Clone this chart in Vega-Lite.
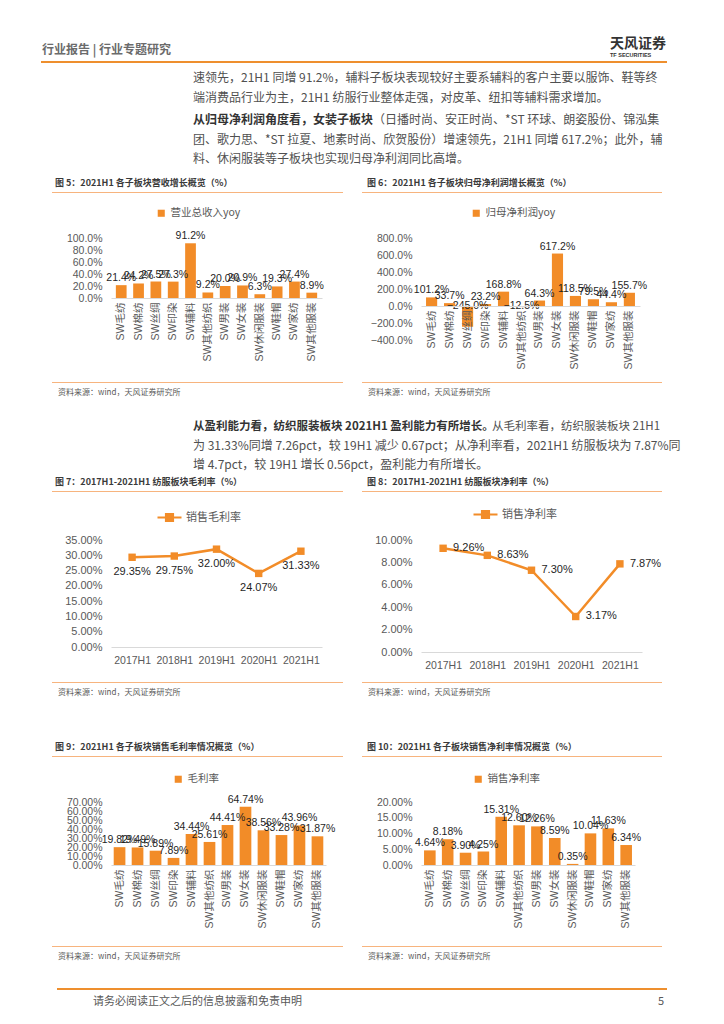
{
"$schema":"https://vega.github.io/schema/vega-lite/v6.json",
"padding":{"left":41,"top":20,"right":0,"bottom":0},
"autosize":{"type":"pad"},
"background":"#ffffff",
"config":{
"view":{"stroke":null},
"font":"Noto Sans CJK SC",
"title":{"font":"Noto Sans CJK SC"},
"axis":{"labelFont":"Liberation Sans, Noto Sans CJK SC","labelFontSize":10.5,"labelColor":"#595959","ticks":false,"tickSize":0,"grid":false,"domainColor":"#D9D9D9","labelOverlap":false,"labelFlush":false,"labelBound":false},
"axisY":{"domain":false,"labelPadding":9},
"legend":{"padding":0,"labelFont":"Noto Sans CJK SC","labelFontSize":10.5,"labelColor":"#595959","symbolType":"square","symbolSize":50,"labelOffset":4}
},
"resolve":{"scale":{"color":"independent"},"legend":{"color":"independent"}},
"columns":10,
"spacing":0,
"bounds":"flush",
"align":"none",
"concat":[
{"width":11,"height":41,"data":{"values":[]},"mark":"point","title":{"text":"行业报告 | 行业专题研究","orient":"bottom","anchor":"start","frame":"group","offset":-16,"dx":1,"fontSize":12,"fontWeight":"bold","color":"#6b6b6b"}},
{"width":5,"height":41,"data":{"values":[]},"mark":"point"},
{"width":54,"height":41,"data":{"values":[]},"mark":"point"},
{"width":215,"height":41,"data":{"values":[]},"mark":"point"},
{"width":17,"height":41,"data":{"values":[]},"mark":"point"},
{"width":19,"height":41,"data":{"values":[]},"mark":"point"},
{"width":59,"height":41,"data":{"values":[]},"mark":"point"},
{"width":221,"height":41,"data":{"values":[]},"mark":"point","title":{"text":"天风证券","subtitle":"TF SECURITIES","orient":"bottom","anchor":"start","frame":"group","offset":-24,"dx":189,"fontSize":14,"fontWeight":"bold","color":"#333333","subtitleFont":"Liberation Sans","subtitleFontSize":5.5,"subtitleFontWeight":"bold","subtitleColor":"#333333","subtitlePadding":2}},
{"width":20,"height":41,"data":{"values":[]},"mark":"point"},
{"width":5,"height":41,"data":{"values":[]},"mark":"point"},

{"width":11,"height":2,"data":{"values":[]},"mark":"point","view":{"fill":"#EE8F2E","stroke":null}},
{"width":5,"height":2,"data":{"values":[]},"mark":"point","view":{"fill":"#EE8F2E","stroke":null}},
{"width":54,"height":2,"data":{"values":[]},"mark":"point","view":{"fill":"#EE8F2E","stroke":null}},
{"width":215,"height":2,"data":{"values":[]},"mark":"point","view":{"fill":"#EE8F2E","stroke":null}},
{"width":17,"height":2,"data":{"values":[]},"mark":"point","view":{"fill":"#EE8F2E","stroke":null}},
{"width":19,"height":2,"data":{"values":[]},"mark":"point","view":{"fill":"#EE8F2E","stroke":null}},
{"width":59,"height":2,"data":{"values":[]},"mark":"point","view":{"fill":"#EE8F2E","stroke":null}},
{"width":221,"height":2,"data":{"values":[]},"mark":"point","view":{"fill":"#EE8F2E","stroke":null}},
{"width":20,"height":2,"data":{"values":[]},"mark":"point","view":{"fill":"#EE8F2E","stroke":null}},
{"width":5,"height":2,"data":{"values":[]},"mark":"point","view":{"fill":"#EE8F2E","stroke":null}},

{"width":11,"height":52,"data":{"values":[]},"mark":"point","title":{"text":["速领先，21H1 同增 91.2%，辅料子板块表现较好主要系辅料的客户主要以服饰、鞋等终","端消费品行业为主，21H1 纺服行业整体走强，对皮革、纽扣等辅料需求增加。"],"orient":"bottom","anchor":"start","frame":"group","offset":-41.9,"dx":152,"fontSize":12,"fontWeight":"normal","color":"#505050","lineHeight":19.5}},
{"width":5,"height":52,"data":{"values":[]},"mark":"point"},
{"width":54,"height":52,"data":{"values":[]},"mark":"point"},
{"width":215,"height":52,"data":{"values":[]},"mark":"point"},
{"width":17,"height":52,"data":{"values":[]},"mark":"point"},
{"width":19,"height":52,"data":{"values":[]},"mark":"point"},
{"width":59,"height":52,"data":{"values":[]},"mark":"point"},
{"width":221,"height":52,"data":{"values":[]},"mark":"point"},
{"width":20,"height":52,"data":{"values":[]},"mark":"point"},
{"width":5,"height":52,"data":{"values":[]},"mark":"point"},

{"width":11,"height":20,"data":{"values":[]},"mark":"point","title":{"text":"从归母净利润角度看，女装子板块","orient":"bottom","anchor":"start","frame":"group","offset":-20,"dx":152,"fontSize":12,"fontWeight":"bold","color":"#333333"}},
{"width":5,"height":20,"data":{"values":[]},"mark":"point","title":{"text":"（日播时尚、安正时尚、*ST 环球、朗姿股份、锦泓集","orient":"bottom","anchor":"start","frame":"group","offset":-20,"dx":321,"fontSize":12,"fontWeight":"normal","color":"#505050"}},
{"width":54,"height":20,"data":{"values":[]},"mark":"point"},
{"width":215,"height":20,"data":{"values":[]},"mark":"point"},
{"width":17,"height":20,"data":{"values":[]},"mark":"point"},
{"width":19,"height":20,"data":{"values":[]},"mark":"point"},
{"width":59,"height":20,"data":{"values":[]},"mark":"point"},
{"width":221,"height":20,"data":{"values":[]},"mark":"point"},
{"width":20,"height":20,"data":{"values":[]},"mark":"point"},
{"width":5,"height":20,"data":{"values":[]},"mark":"point"},

{"width":11,"height":57,"data":{"values":[]},"mark":"point","title":{"text":["团、歌力思、*ST 拉夏、地素时尚、欣贺股份）增速领先，21H1 同增 617.2%；此外，辅","料、休闲服装等子板块也实现归母净利润同比高增。"],"orient":"bottom","anchor":"start","frame":"group","offset":-57.5,"dx":152,"fontSize":12,"fontWeight":"normal","color":"#505050","lineHeight":19.5}},
{"width":5,"height":57,"data":{"values":[]},"mark":"point"},
{"width":54,"height":57,"data":{"values":[]},"mark":"point"},
{"width":215,"height":57,"data":{"values":[]},"mark":"point"},
{"width":17,"height":57,"data":{"values":[]},"mark":"point"},
{"width":19,"height":57,"data":{"values":[]},"mark":"point"},
{"width":59,"height":57,"data":{"values":[]},"mark":"point"},
{"width":221,"height":57,"data":{"values":[]},"mark":"point"},
{"width":20,"height":57,"data":{"values":[]},"mark":"point"},
{"width":5,"height":57,"data":{"values":[]},"mark":"point"},

{"width":11,"height":1,"data":{"values":[]},"mark":"point"},
{"width":5,"height":1,"data":{"values":[]},"mark":"point","view":{"fill":"#F7B47E","stroke":null},"title":{"text":"图 5：2021H1 各子板块营收增长概览（%）","orient":"top","anchor":"start","frame":"group","offset":4,"dx":3,"fontSize":9,"fontWeight":"bold","color":"#3a3a3a"}},
{"width":54,"height":1,"data":{"values":[]},"mark":"point","view":{"fill":"#F7B47E","stroke":null}},
{"width":215,"height":1,"data":{"values":[]},"mark":"point","view":{"fill":"#F7B47E","stroke":null}},
{"width":17,"height":1,"data":{"values":[]},"mark":"point","view":{"fill":"#F7B47E","stroke":null}},
{"width":19,"height":1,"data":{"values":[]},"mark":"point"},
{"width":59,"height":1,"data":{"values":[]},"mark":"point","view":{"fill":"#F7B47E","stroke":null},"title":{"text":"图 6：2021H1 各子板块归母净利润增长概览（%）","orient":"top","anchor":"start","frame":"group","offset":4,"dx":5,"fontSize":9,"fontWeight":"bold","color":"#3a3a3a"}},
{"width":221,"height":1,"data":{"values":[]},"mark":"point","view":{"fill":"#F7B47E","stroke":null}},
{"width":20,"height":1,"data":{"values":[]},"mark":"point","view":{"fill":"#F7B47E","stroke":null}},
{"width":5,"height":1,"data":{"values":[]},"mark":"point"},

{"width":11,"height":45,"data":{"values":[]},"mark":"point"},
{"width":5,"height":45,"data":{"values":[]},"mark":"point"},
{"width":54,"height":45,"data":{"values":[]},"mark":"point"},
{"width":215,"height":45,"data":{"values":[]},"mark":"point"},
{"width":17,"height":45,"data":{"values":[]},"mark":"point"},
{"width":19,"height":45,"data":{"values":[]},"mark":"point"},
{"width":59,"height":45,"data":{"values":[]},"mark":"point"},
{"width":221,"height":45,"data":{"values":[]},"mark":"point"},
{"width":20,"height":45,"data":{"values":[]},"mark":"point"},
{"width":5,"height":45,"data":{"values":[]},"mark":"point"},

{"width":11,"height":102,"data":{"values":[]},"mark":"point"},
{"width":5,"height":102,"data":{"values":[]},"mark":"point"},
{"width":54,"height":102,"data":{"values":[]},"mark":"point"},
{"width":211,"height":60,
"data":{"values":[
{"cat":"SW毛纺","value":0.214,"series":"营业总收入yoy"},
{"cat":"SW棉纺","value":0.242,"series":"营业总收入yoy"},
{"cat":"SW丝绸","value":0.275,"series":"营业总收入yoy"},
{"cat":"SW印染","value":0.273,"series":"营业总收入yoy"},
{"cat":"SW辅料","value":0.912,"series":"营业总收入yoy"},
{"cat":"SW其他纺织","value":0.092,"series":"营业总收入yoy"},
{"cat":"SW男装","value":0.200,"series":"营业总收入yoy"},
{"cat":"SW女装","value":0.209,"series":"营业总收入yoy"},
{"cat":"SW休闲服装","value":0.063,"series":"营业总收入yoy"},
{"cat":"SW鞋帽","value":0.193,"series":"营业总收入yoy"},
{"cat":"SW家纺","value":0.274,"series":"营业总收入yoy"},
{"cat":"SW其他服装","value":0.089,"series":"营业总收入yoy"}]},
"encoding":{
"x":{"field":"cat","type":"nominal","sort":null,"scale":{"paddingInner":0.38,"paddingOuter":0.28},"axis":{"title":null,"labelAngle":-90,"labelPadding":4}},
"y":{"field":"value","type":"quantitative","scale":{"domain":[0,1],"nice":false},"axis":{"title":null,"values":[0,0.2,0.4,0.6,0.8,1],"format":".1%"}}},
"layer":[
{"mark":{"type":"bar"},"encoding":{"color":{"field":"series","type":"nominal","scale":{"range":["#F28C28"]},"legend":{"title":null,"orient":"none","legendX":45,"legendY":-30}}}},
{"mark":{"type":"text","baseline":"bottom","dy":-2,"font":"Liberation Sans","fontSize":10.5,"color":"#1f1f1f"},"encoding":{"text":{"field":"value","type":"quantitative","format":".1%"}}}
]},
{"width":17,"height":102,"data":{"values":[]},"mark":"point"},
{"width":19,"height":102,"data":{"values":[]},"mark":"point"},
{"width":59,"height":102,"data":{"values":[]},"mark":"point"},
{"width":219,"height":102,
"data":{"values":[
{"cat":"SW毛纺","value":1.012,"series":"归母净利润yoy"},
{"cat":"SW棉纺","value":0.337,"series":"归母净利润yoy"},
{"cat":"SW丝绸","value":-2.450,"series":"归母净利润yoy"},
{"cat":"SW印染","value":0.232,"series":"归母净利润yoy"},
{"cat":"SW辅料","value":1.688,"series":"归母净利润yoy"},
{"cat":"SW其他纺织","value":-0.125,"series":"归母净利润yoy"},
{"cat":"SW男装","value":0.643,"series":"归母净利润yoy"},
{"cat":"SW女装","value":6.172,"series":"归母净利润yoy"},
{"cat":"SW休闲服装","value":1.185,"series":"归母净利润yoy"},
{"cat":"SW鞋帽","value":0.795,"series":"归母净利润yoy"},
{"cat":"SW家纺","value":0.444,"series":"归母净利润yoy"},
{"cat":"SW其他服装","value":1.557,"series":"归母净利润yoy"}]},
"encoding":{
"x":{"field":"cat","type":"nominal","sort":null,"scale":{"paddingInner":0.38,"paddingOuter":0.28},"axis":{"title":null,"labelAngle":-90,"labelPadding":4,"offset":-34,"zindex":1}},
"y":{"field":"value","type":"quantitative","scale":{"domain":[-4,8],"nice":false},"axis":{"title":null,"values":[-4,-2,0,2,4,6,8],"format":".1%"}}},
"layer":[
{"mark":{"type":"bar"},"encoding":{"color":{"field":"series","type":"nominal","scale":{"range":["#F28C28"]},"legend":{"title":null,"orient":"none","legendX":50,"legendY":-30}}}},
{"transform":[{"filter":"datum.value >= 0"}],"mark":{"type":"text","baseline":"bottom","dy":-2,"font":"Liberation Sans","fontSize":10.5,"color":"#1f1f1f"},"encoding":{"text":{"field":"value","type":"quantitative","format":".1%"}}},
{"transform":[{"filter":"datum.value < 0"}],"mark":{"type":"text","baseline":"middle","font":"Liberation Sans","fontSize":10.5,"color":"#1f1f1f"},"encoding":{"y":{"datum":0,"type":"quantitative"},"text":{"field":"value","type":"quantitative","format":".1%"}}}
]},
{"width":20,"height":102,"data":{"values":[]},"mark":"point"},
{"width":5,"height":102,"data":{"values":[]},"mark":"point"},

{"width":11,"height":42,"data":{"values":[]},"mark":"point"},
{"width":5,"height":42,"data":{"values":[]},"mark":"point"},
{"width":54,"height":42,"data":{"values":[]},"mark":"point"},
{"width":215,"height":42,"data":{"values":[]},"mark":"point"},
{"width":17,"height":42,"data":{"values":[]},"mark":"point"},
{"width":19,"height":42,"data":{"values":[]},"mark":"point"},
{"width":59,"height":42,"data":{"values":[]},"mark":"point"},
{"width":221,"height":42,"data":{"values":[]},"mark":"point"},
{"width":20,"height":42,"data":{"values":[]},"mark":"point"},
{"width":5,"height":42,"data":{"values":[]},"mark":"point"},

{"width":11,"height":1,"data":{"values":[]},"mark":"point"},
{"width":5,"height":1,"data":{"values":[]},"mark":"point","view":{"fill":"#F7B47E","stroke":null},"title":{"text":"资料来源：wind，天风证券研究所","orient":"bottom","anchor":"start","frame":"group","offset":6,"dx":6,"fontSize":8,"fontWeight":"normal","color":"#595959"}},
{"width":54,"height":1,"data":{"values":[]},"mark":"point","view":{"fill":"#F7B47E","stroke":null}},
{"width":215,"height":1,"data":{"values":[]},"mark":"point","view":{"fill":"#F7B47E","stroke":null}},
{"width":17,"height":1,"data":{"values":[]},"mark":"point","view":{"fill":"#F7B47E","stroke":null}},
{"width":19,"height":1,"data":{"values":[]},"mark":"point"},
{"width":59,"height":1,"data":{"values":[]},"mark":"point","view":{"fill":"#F7B47E","stroke":null},"title":{"text":"资料来源：wind，天风证券研究所","orient":"bottom","anchor":"start","frame":"group","offset":6,"dx":6,"fontSize":8,"fontWeight":"normal","color":"#595959"}},
{"width":221,"height":1,"data":{"values":[]},"mark":"point","view":{"fill":"#F7B47E","stroke":null}},
{"width":20,"height":1,"data":{"values":[]},"mark":"point","view":{"fill":"#F7B47E","stroke":null}},
{"width":5,"height":1,"data":{"values":[]},"mark":"point"},

{"width":11,"height":52,"data":{"values":[]},"mark":"point","title":{"text":"从盈利能力看，纺织服装板块 2021H1 盈利能力有所增长。","orient":"bottom","anchor":"start","frame":"group","offset":-14,"dx":152,"fontSize":11.5,"fontWeight":"bold","color":"#333333"}},
{"width":5,"height":52,"data":{"values":[]},"mark":"point","title":{"text":"从毛利率看，纺织服装板块 21H1","orient":"bottom","anchor":"start","frame":"group","offset":-14,"dx":440,"fontSize":11.5,"fontWeight":"normal","color":"#505050"}},
{"width":54,"height":52,"data":{"values":[]},"mark":"point"},
{"width":215,"height":52,"data":{"values":[]},"mark":"point"},
{"width":17,"height":52,"data":{"values":[]},"mark":"point"},
{"width":19,"height":52,"data":{"values":[]},"mark":"point"},
{"width":59,"height":52,"data":{"values":[]},"mark":"point"},
{"width":221,"height":52,"data":{"values":[]},"mark":"point"},
{"width":20,"height":52,"data":{"values":[]},"mark":"point"},
{"width":5,"height":52,"data":{"values":[]},"mark":"point"},

{"width":11,"height":56,"data":{"values":[]},"mark":"point","title":{"text":["为 31.33%同增 7.26pct，较 19H1 减少 0.67pct；从净利率看，2021H1 纺服板块为 7.87%同","增 4.7pct，较 19H1 增长 0.56pct，盈利能力有所增长。"],"orient":"bottom","anchor":"start","frame":"group","offset":-50.5,"dx":152,"fontSize":12,"fontWeight":"normal","color":"#505050","lineHeight":19.5}},
{"width":5,"height":56,"data":{"values":[]},"mark":"point"},
{"width":54,"height":56,"data":{"values":[]},"mark":"point"},
{"width":215,"height":56,"data":{"values":[]},"mark":"point"},
{"width":17,"height":56,"data":{"values":[]},"mark":"point"},
{"width":19,"height":56,"data":{"values":[]},"mark":"point"},
{"width":59,"height":56,"data":{"values":[]},"mark":"point"},
{"width":221,"height":56,"data":{"values":[]},"mark":"point"},
{"width":20,"height":56,"data":{"values":[]},"mark":"point"},
{"width":5,"height":56,"data":{"values":[]},"mark":"point"},

{"width":11,"height":1,"data":{"values":[]},"mark":"point"},
{"width":5,"height":1,"data":{"values":[]},"mark":"point","view":{"fill":"#F7B47E","stroke":null},"title":{"text":"图 7：2017H1-2021H1 纺服板块毛利率（%）","orient":"top","anchor":"start","frame":"group","offset":4,"dx":3,"fontSize":9,"fontWeight":"bold","color":"#3a3a3a"}},
{"width":54,"height":1,"data":{"values":[]},"mark":"point","view":{"fill":"#F7B47E","stroke":null}},
{"width":215,"height":1,"data":{"values":[]},"mark":"point","view":{"fill":"#F7B47E","stroke":null}},
{"width":17,"height":1,"data":{"values":[]},"mark":"point","view":{"fill":"#F7B47E","stroke":null}},
{"width":19,"height":1,"data":{"values":[]},"mark":"point"},
{"width":59,"height":1,"data":{"values":[]},"mark":"point","view":{"fill":"#F7B47E","stroke":null},"title":{"text":"图 8：2017H1-2021H1 纺服板块净利率（%）","orient":"top","anchor":"start","frame":"group","offset":4,"dx":5,"fontSize":9,"fontWeight":"bold","color":"#3a3a3a"}},
{"width":221,"height":1,"data":{"values":[]},"mark":"point","view":{"fill":"#F7B47E","stroke":null}},
{"width":20,"height":1,"data":{"values":[]},"mark":"point","view":{"fill":"#F7B47E","stroke":null}},
{"width":5,"height":1,"data":{"values":[]},"mark":"point"},

{"width":11,"height":48,"data":{"values":[]},"mark":"point"},
{"width":5,"height":48,"data":{"values":[]},"mark":"point"},
{"width":54,"height":48,"data":{"values":[]},"mark":"point"},
{"width":215,"height":48,"data":{"values":[]},"mark":"point"},
{"width":17,"height":48,"data":{"values":[]},"mark":"point"},
{"width":19,"height":48,"data":{"values":[]},"mark":"point"},
{"width":59,"height":48,"data":{"values":[]},"mark":"point"},
{"width":221,"height":48,"data":{"values":[]},"mark":"point"},
{"width":20,"height":48,"data":{"values":[]},"mark":"point"},
{"width":5,"height":48,"data":{"values":[]},"mark":"point"},

{"width":11,"height":112,"data":{"values":[]},"mark":"point"},
{"width":5,"height":112,"data":{"values":[]},"mark":"point"},
{"width":54,"height":112,"data":{"values":[]},"mark":"point"},
{"width":211,"height":107,
"data":{"values":[
{"period":"2017H1","value":0.2935,"series":"销售毛利率"},
{"period":"2018H1","value":0.2975,"series":"销售毛利率"},
{"period":"2019H1","value":0.3200,"series":"销售毛利率"},
{"period":"2020H1","value":0.2407,"series":"销售毛利率"},
{"period":"2021H1","value":0.3133,"series":"销售毛利率"}]},
"encoding":{
"x":{"field":"period","type":"nominal","sort":null,"axis":{"title":null,"labelAngle":0,"labelPadding":8}},
"y":{"field":"value","type":"quantitative","scale":{"domain":[0,0.35],"nice":false},"axis":{"title":null,"values":[0,0.05,0.1,0.15,0.2,0.25,0.3,0.35],"format":".2%","labelFontSize":11}}},
"layer":[
{"mark":{"type":"line","strokeWidth":2.5},"encoding":{"color":{"field":"series","type":"nominal","scale":{"range":["#F28C28"]},"legend":{"title":null,"orient":"none","legendX":45,"legendY":-36,"symbolType":"M-1,0H1M-0.29,-0.29H0.29V0.29H-0.29Z","symbolSize":576,"symbolStrokeWidth":2.2,"labelFontSize":11,"labelOffset":3,"encode":{"symbols":{"update":{"fill":{"value":"#F28C28"},"stroke":{"value":"#F28C28"},"opacity":{"value":1}}}}}}}},
{"mark":{"type":"point","shape":"square","filled":true,"size":55,"color":"#F28C28","opacity":1}},
{"mark":{"type":"text","baseline":"middle","dy":15,"font":"Liberation Sans","fontSize":11,"color":"#1f1f1f"},"encoding":{"text":{"field":"value","type":"quantitative","format":".2%"}}}
]},
{"width":17,"height":112,"data":{"values":[]},"mark":"point"},
{"width":19,"height":112,"data":{"values":[]},"mark":"point"},
{"width":59,"height":112,"data":{"values":[]},"mark":"point"},
{"width":221,"height":112,
"data":{"values":[
{"period":"2017H1","value":0.0926,"series":"销售净利率"},
{"period":"2018H1","value":0.0863,"series":"销售净利率"},
{"period":"2019H1","value":0.0730,"series":"销售净利率"},
{"period":"2020H1","value":0.0317,"series":"销售净利率"},
{"period":"2021H1","value":0.0787,"series":"销售净利率"}]},
"encoding":{
"x":{"field":"period","type":"nominal","sort":null,"axis":{"title":null,"labelAngle":0,"labelPadding":8}},
"y":{"field":"value","type":"quantitative","scale":{"domain":[0,0.1],"nice":false},"axis":{"title":null,"values":[0,0.02,0.04,0.06,0.08,0.1],"format":".2%","labelFontSize":11}}},
"layer":[
{"mark":{"type":"line","strokeWidth":2.5},"encoding":{"color":{"field":"series","type":"nominal","scale":{"range":["#F28C28"]},"legend":{"title":null,"orient":"none","legendX":51,"legendY":-39,"symbolType":"M-1,0H1M-0.29,-0.29H0.29V0.29H-0.29Z","symbolSize":576,"symbolStrokeWidth":2.2,"labelFontSize":11,"labelOffset":3,"encode":{"symbols":{"update":{"fill":{"value":"#F28C28"},"stroke":{"value":"#F28C28"},"opacity":{"value":1}}}}}}}},
{"mark":{"type":"point","shape":"square","filled":true,"size":55,"color":"#F28C28","opacity":1}},
{"mark":{"type":"text","baseline":"middle","align":"left","dx":10,"font":"Liberation Sans","fontSize":11,"color":"#1f1f1f"},"encoding":{"text":{"field":"value","type":"quantitative","format":".2%"}}}
]},
{"width":20,"height":112,"data":{"values":[]},"mark":"point"},
{"width":5,"height":112,"data":{"values":[]},"mark":"point"},

{"width":11,"height":30,"data":{"values":[]},"mark":"point"},
{"width":5,"height":30,"data":{"values":[]},"mark":"point"},
{"width":54,"height":30,"data":{"values":[]},"mark":"point"},
{"width":215,"height":30,"data":{"values":[]},"mark":"point"},
{"width":17,"height":30,"data":{"values":[]},"mark":"point"},
{"width":19,"height":30,"data":{"values":[]},"mark":"point"},
{"width":59,"height":30,"data":{"values":[]},"mark":"point"},
{"width":221,"height":30,"data":{"values":[]},"mark":"point"},
{"width":20,"height":30,"data":{"values":[]},"mark":"point"},
{"width":5,"height":30,"data":{"values":[]},"mark":"point"},

{"width":11,"height":1,"data":{"values":[]},"mark":"point"},
{"width":5,"height":1,"data":{"values":[]},"mark":"point","view":{"fill":"#F7B47E","stroke":null},"title":{"text":"资料来源：wind，天风证券研究所","orient":"bottom","anchor":"start","frame":"group","offset":6,"dx":6,"fontSize":8,"fontWeight":"normal","color":"#595959"}},
{"width":54,"height":1,"data":{"values":[]},"mark":"point","view":{"fill":"#F7B47E","stroke":null}},
{"width":215,"height":1,"data":{"values":[]},"mark":"point","view":{"fill":"#F7B47E","stroke":null}},
{"width":17,"height":1,"data":{"values":[]},"mark":"point","view":{"fill":"#F7B47E","stroke":null}},
{"width":19,"height":1,"data":{"values":[]},"mark":"point"},
{"width":59,"height":1,"data":{"values":[]},"mark":"point","view":{"fill":"#F7B47E","stroke":null},"title":{"text":"资料来源：wind，天风证券研究所","orient":"bottom","anchor":"start","frame":"group","offset":6,"dx":6,"fontSize":8,"fontWeight":"normal","color":"#595959"}},
{"width":221,"height":1,"data":{"values":[]},"mark":"point","view":{"fill":"#F7B47E","stroke":null}},
{"width":20,"height":1,"data":{"values":[]},"mark":"point","view":{"fill":"#F7B47E","stroke":null}},
{"width":5,"height":1,"data":{"values":[]},"mark":"point"},

{"width":11,"height":73,"data":{"values":[]},"mark":"point"},
{"width":5,"height":73,"data":{"values":[]},"mark":"point"},
{"width":54,"height":73,"data":{"values":[]},"mark":"point"},
{"width":215,"height":73,"data":{"values":[]},"mark":"point"},
{"width":17,"height":73,"data":{"values":[]},"mark":"point"},
{"width":19,"height":73,"data":{"values":[]},"mark":"point"},
{"width":59,"height":73,"data":{"values":[]},"mark":"point"},
{"width":221,"height":73,"data":{"values":[]},"mark":"point"},
{"width":20,"height":73,"data":{"values":[]},"mark":"point"},
{"width":5,"height":73,"data":{"values":[]},"mark":"point"},

{"width":11,"height":1,"data":{"values":[]},"mark":"point"},
{"width":5,"height":1,"data":{"values":[]},"mark":"point","view":{"fill":"#F7B47E","stroke":null},"title":{"text":"图 9：2021H1 各子板块销售毛利率情况概览（%）","orient":"top","anchor":"start","frame":"group","offset":4,"dx":3,"fontSize":9,"fontWeight":"bold","color":"#3a3a3a"}},
{"width":54,"height":1,"data":{"values":[]},"mark":"point","view":{"fill":"#F7B47E","stroke":null}},
{"width":215,"height":1,"data":{"values":[]},"mark":"point","view":{"fill":"#F7B47E","stroke":null}},
{"width":17,"height":1,"data":{"values":[]},"mark":"point","view":{"fill":"#F7B47E","stroke":null}},
{"width":19,"height":1,"data":{"values":[]},"mark":"point"},
{"width":59,"height":1,"data":{"values":[]},"mark":"point","view":{"fill":"#F7B47E","stroke":null},"title":{"text":"图 10：2021H1 各子板块销售净利率情况概览（%）","orient":"top","anchor":"start","frame":"group","offset":4,"dx":5,"fontSize":9,"fontWeight":"bold","color":"#3a3a3a"}},
{"width":221,"height":1,"data":{"values":[]},"mark":"point","view":{"fill":"#F7B47E","stroke":null}},
{"width":20,"height":1,"data":{"values":[]},"mark":"point","view":{"fill":"#F7B47E","stroke":null}},
{"width":5,"height":1,"data":{"values":[]},"mark":"point"},

{"width":11,"height":45,"data":{"values":[]},"mark":"point"},
{"width":5,"height":45,"data":{"values":[]},"mark":"point"},
{"width":54,"height":45,"data":{"values":[]},"mark":"point"},
{"width":215,"height":45,"data":{"values":[]},"mark":"point"},
{"width":17,"height":45,"data":{"values":[]},"mark":"point"},
{"width":19,"height":45,"data":{"values":[]},"mark":"point"},
{"width":59,"height":45,"data":{"values":[]},"mark":"point"},
{"width":221,"height":45,"data":{"values":[]},"mark":"point"},
{"width":20,"height":45,"data":{"values":[]},"mark":"point"},
{"width":5,"height":45,"data":{"values":[]},"mark":"point"},

{"width":11,"height":63,"data":{"values":[]},"mark":"point"},
{"width":5,"height":63,"data":{"values":[]},"mark":"point"},
{"width":54,"height":63,"data":{"values":[]},"mark":"point"},
{"width":215,"height":63,
"data":{"values":[
{"cat":"SW毛纺","value":0.1982,"series":"毛利率"},
{"cat":"SW棉纺","value":0.1949,"series":"毛利率"},
{"cat":"SW丝绸","value":0.1589,"series":"毛利率"},
{"cat":"SW印染","value":0.0789,"series":"毛利率"},
{"cat":"SW辅料","value":0.3444,"series":"毛利率"},
{"cat":"SW其他纺织","value":0.2561,"series":"毛利率"},
{"cat":"SW男装","value":0.4441,"series":"毛利率"},
{"cat":"SW女装","value":0.6474,"series":"毛利率"},
{"cat":"SW休闲服装","value":0.3856,"series":"毛利率"},
{"cat":"SW鞋帽","value":0.3328,"series":"毛利率"},
{"cat":"SW家纺","value":0.4396,"series":"毛利率"},
{"cat":"SW其他服装","value":0.3187,"series":"毛利率"}]},
"encoding":{
"x":{"field":"cat","type":"nominal","sort":null,"scale":{"paddingInner":0.35,"paddingOuter":0.15},"axis":{"title":null,"labelAngle":-90,"labelPadding":4}},
"y":{"field":"value","type":"quantitative","scale":{"domain":[0,0.7],"nice":false},"axis":{"title":null,"values":[0,0.1,0.2,0.3,0.4,0.5,0.6,0.7],"format":".2%"}}},
"layer":[
{"mark":{"type":"bar"},"encoding":{"color":{"field":"series","type":"nominal","scale":{"range":["#F28C28"]},"legend":{"title":null,"orient":"none","legendX":62,"legendY":-28}}}},
{"mark":{"type":"text","baseline":"bottom","dy":-2,"font":"Liberation Sans","fontSize":10.5,"color":"#1f1f1f"},"encoding":{"text":{"field":"value","type":"quantitative","format":".2%"}}}
]},
{"width":17,"height":63,"data":{"values":[]},"mark":"point"},
{"width":19,"height":63,"data":{"values":[]},"mark":"point"},
{"width":59,"height":63,"data":{"values":[]},"mark":"point"},
{"width":214,"height":63,
"data":{"values":[
{"cat":"SW毛纺","value":0.0464,"series":"销售净利率"},
{"cat":"SW棉纺","value":0.0818,"series":"销售净利率"},
{"cat":"SW丝绸","value":0.0390,"series":"销售净利率"},
{"cat":"SW印染","value":0.0425,"series":"销售净利率"},
{"cat":"SW辅料","value":0.1531,"series":"销售净利率"},
{"cat":"SW其他纺织","value":0.1260,"series":"销售净利率"},
{"cat":"SW男装","value":0.1226,"series":"销售净利率"},
{"cat":"SW女装","value":0.0859,"series":"销售净利率"},
{"cat":"SW休闲服装","value":0.0035,"series":"销售净利率"},
{"cat":"SW鞋帽","value":0.1004,"series":"销售净利率"},
{"cat":"SW家纺","value":0.1163,"series":"销售净利率"},
{"cat":"SW其他服装","value":0.0634,"series":"销售净利率"}]},
"encoding":{
"x":{"field":"cat","type":"nominal","sort":null,"scale":{"paddingInner":0.35,"paddingOuter":0.17},"axis":{"title":null,"labelAngle":-90,"labelPadding":4}},
"y":{"field":"value","type":"quantitative","scale":{"domain":[0,0.2],"nice":false},"axis":{"title":null,"values":[0,0.05,0.1,0.15,0.2],"format":".2%"}}},
"layer":[
{"mark":{"type":"bar"},"encoding":{"color":{"field":"series","type":"nominal","scale":{"range":["#F28C28"]},"legend":{"title":null,"orient":"none","legendX":52,"legendY":-28}}}},
{"mark":{"type":"text","baseline":"bottom","dy":-2,"font":"Liberation Sans","fontSize":10.5,"color":"#1f1f1f"},"encoding":{"text":{"field":"value","type":"quantitative","format":".2%"}}}
]},
{"width":20,"height":63,"data":{"values":[]},"mark":"point"},
{"width":5,"height":63,"data":{"values":[]},"mark":"point"},

{"width":11,"height":81,"data":{"values":[]},"mark":"point"},
{"width":5,"height":81,"data":{"values":[]},"mark":"point"},
{"width":54,"height":81,"data":{"values":[]},"mark":"point"},
{"width":215,"height":81,"data":{"values":[]},"mark":"point"},
{"width":17,"height":81,"data":{"values":[]},"mark":"point"},
{"width":19,"height":81,"data":{"values":[]},"mark":"point"},
{"width":59,"height":81,"data":{"values":[]},"mark":"point"},
{"width":221,"height":81,"data":{"values":[]},"mark":"point"},
{"width":20,"height":81,"data":{"values":[]},"mark":"point"},
{"width":5,"height":81,"data":{"values":[]},"mark":"point"},

{"width":11,"height":1,"data":{"values":[]},"mark":"point"},
{"width":5,"height":1,"data":{"values":[]},"mark":"point","view":{"fill":"#F7B47E","stroke":null},"title":{"text":"资料来源：wind，天风证券研究所","orient":"bottom","anchor":"start","frame":"group","offset":6,"dx":6,"fontSize":8,"fontWeight":"normal","color":"#595959"}},
{"width":54,"height":1,"data":{"values":[]},"mark":"point","view":{"fill":"#F7B47E","stroke":null}},
{"width":215,"height":1,"data":{"values":[]},"mark":"point","view":{"fill":"#F7B47E","stroke":null}},
{"width":17,"height":1,"data":{"values":[]},"mark":"point","view":{"fill":"#F7B47E","stroke":null}},
{"width":19,"height":1,"data":{"values":[]},"mark":"point"},
{"width":59,"height":1,"data":{"values":[]},"mark":"point","view":{"fill":"#F7B47E","stroke":null},"title":{"text":"资料来源：wind，天风证券研究所","orient":"bottom","anchor":"start","frame":"group","offset":6,"dx":6,"fontSize":8,"fontWeight":"normal","color":"#595959"}},
{"width":221,"height":1,"data":{"values":[]},"mark":"point","view":{"fill":"#F7B47E","stroke":null}},
{"width":20,"height":1,"data":{"values":[]},"mark":"point","view":{"fill":"#F7B47E","stroke":null}},
{"width":5,"height":1,"data":{"values":[]},"mark":"point"},

{"width":11,"height":41,"data":{"values":[]},"mark":"point"},
{"width":5,"height":41,"data":{"values":[]},"mark":"point"},
{"width":54,"height":41,"data":{"values":[]},"mark":"point"},
{"width":215,"height":41,"data":{"values":[]},"mark":"point"},
{"width":17,"height":41,"data":{"values":[]},"mark":"point"},
{"width":19,"height":41,"data":{"values":[]},"mark":"point"},
{"width":59,"height":41,"data":{"values":[]},"mark":"point"},
{"width":221,"height":41,"data":{"values":[]},"mark":"point"},
{"width":20,"height":41,"data":{"values":[]},"mark":"point"},
{"width":5,"height":41,"data":{"values":[]},"mark":"point"},

{"width":11,"height":2,"data":{"values":[]},"mark":"point"},
{"width":5,"height":2,"data":{"values":[]},"mark":"point"},
{"width":54,"height":2,"data":{"values":[]},"mark":"point","view":{"fill":"#EE8F2E","stroke":null},"title":{"text":"请务必阅读正文之后的信息披露和免责申明","orient":"bottom","anchor":"start","frame":"group","offset":5.5,"dx":36,"fontSize":11,"fontWeight":"normal","color":"#595959"}},
{"width":215,"height":2,"data":{"values":[]},"mark":"point","view":{"fill":"#EE8F2E","stroke":null}},
{"width":17,"height":2,"data":{"values":[]},"mark":"point","view":{"fill":"#EE8F2E","stroke":null}},
{"width":19,"height":2,"data":{"values":[]},"mark":"point","view":{"fill":"#EE8F2E","stroke":null}},
{"width":59,"height":2,"data":{"values":[]},"mark":"point","view":{"fill":"#EE8F2E","stroke":null}},
{"width":221,"height":2,"data":{"values":[]},"mark":"point","view":{"fill":"#EE8F2E","stroke":null}},
{"width":20,"height":2,"data":{"values":[]},"mark":"point","view":{"fill":"#EE8F2E","stroke":null}},
{"width":5,"height":2,"data":{"values":[]},"mark":"point","view":{"fill":"#EE8F2E","stroke":null},"title":{"text":"5","orient":"bottom","anchor":"end","frame":"group","offset":5.5,"dx":-3,"fontSize":11,"fontWeight":"normal","color":"#595959"}}
]
}
